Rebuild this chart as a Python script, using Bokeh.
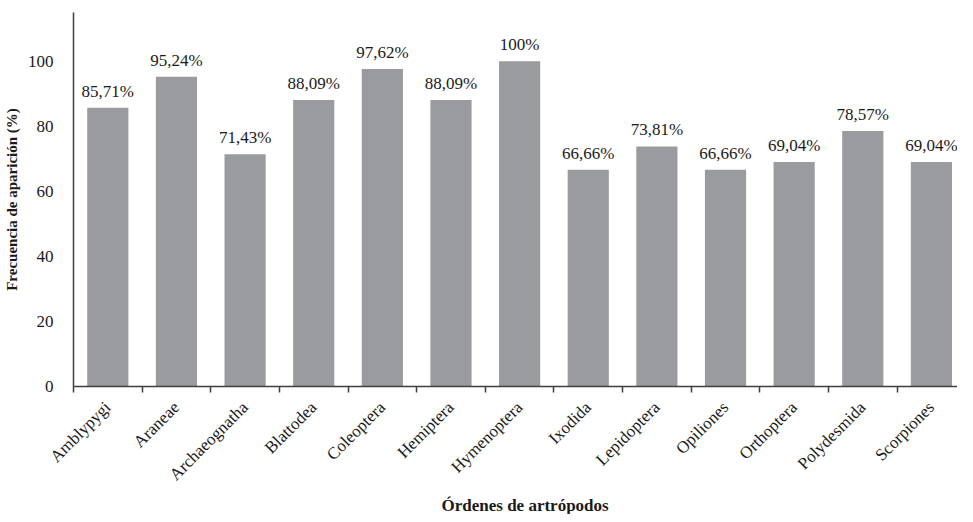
import math
from bokeh.plotting import figure
from bokeh.models import Range1d, FixedTicker, ColumnDataSource, Title
from bokeh.core.properties import value
from bokeh.embed import file_html
from bokeh.resources import INLINE

categories = ["Amblypygi", "Araneae", "Archaeognatha", "Blattodea", "Coleoptera",
              "Hemiptera", "Hymenoptera", "Ixodida", "Lepidoptera", "Opiliones",
              "Orthoptera", "Polydesmida", "Scorpiones"]
values = [85.71, 95.24, 71.43, 88.09, 97.62, 88.09, 100, 66.66, 73.81, 66.66,
          69.04, 78.57, 69.04]
labels = ["85,71%", "95,24%", "71,43%", "88,09%", "97,62%", "88,09%", "100%",
          "66,66%", "73,81%", "66,66%", "69,04%", "78,57%", "69,04%"]
y_ticks = [0, 20, 40, 60, 80, 100]

FONT = "Liberation Serif"
AXIS_COLOR = "#3f3f3f"
BAR_COLOR = "#9a9b9f"
TEXT_COLOR = "#1a1a1a"

centers = [i + 0.5 for i in range(len(categories))]
src = ColumnDataSource(dict(x=centers, top=values, lab=labels))

p = figure(width=957, height=514, output_backend="svg", toolbar_location=None,
           x_range=Range1d(0, 12.88), y_range=Range1d(0, 115))
p.min_border_left = 65
p.min_border_right = 0
p.min_border_top = 12
p.min_border_bottom = 100
p.outline_line_color = None
p.xgrid.grid_line_color = None
p.ygrid.grid_line_color = None
p.background_fill_color = "white"
p.border_fill_color = "white"

p.vbar(x="x", top="top", bottom=0, width=0.6, source=src,
       fill_color=BAR_COLOR, line_color=None)
p.text(x="x", y="top", text="lab", source=src, text_align="center",
       text_baseline="bottom", y_offset=-7, text_font=value(FONT),
       text_font_size="17px", text_color=TEXT_COLOR)

# x axis
xa = p.xaxis[0]
xa.ticker = FixedTicker(ticks=centers, minor_ticks=list(range(len(categories) + 1)))
xa.major_label_overrides = {c: n for c, n in zip(centers, categories)}
xa.major_label_orientation = math.pi / 4
xa.major_tick_line_color = None
xa.minor_tick_line_color = AXIS_COLOR
xa.minor_tick_line_width = 1.5
xa.minor_tick_out = 6
xa.minor_tick_in = 0
xa.axis_line_color = AXIS_COLOR
xa.axis_line_width = 1.5
xa.major_label_text_font = FONT
xa.major_label_text_font_size = "17px"
xa.major_label_text_color = TEXT_COLOR
xa.major_label_standoff = 12

# x title, placed below the axis
p.add_layout(Title(text="Órdenes de artrópodos", align="left", offset=368,
                   text_font=FONT, text_font_style="bold", text_font_size="17px",
                   text_color=TEXT_COLOR, standoff=0), "below")

# y axis
ya = p.yaxis[0]
ya.ticker = FixedTicker(ticks=y_ticks, minor_ticks=[])
ya.major_tick_line_color = None
ya.minor_tick_line_color = None
ya.axis_line_color = AXIS_COLOR
ya.axis_line_width = 1.5
ya.major_label_text_font = FONT
ya.major_label_text_font_size = "17px"
ya.major_label_text_color = TEXT_COLOR
ya.major_label_standoff = 14
ya.axis_label = "Frecuencia de aparición (%)"
ya.axis_label_text_font = FONT
ya.axis_label_text_font_style = "bold"
ya.axis_label_text_font_size = "15px"
ya.axis_label_text_color = TEXT_COLOR
ya.axis_label_standoff = 5

open("out.html", "w").write(file_html(p, INLINE))
